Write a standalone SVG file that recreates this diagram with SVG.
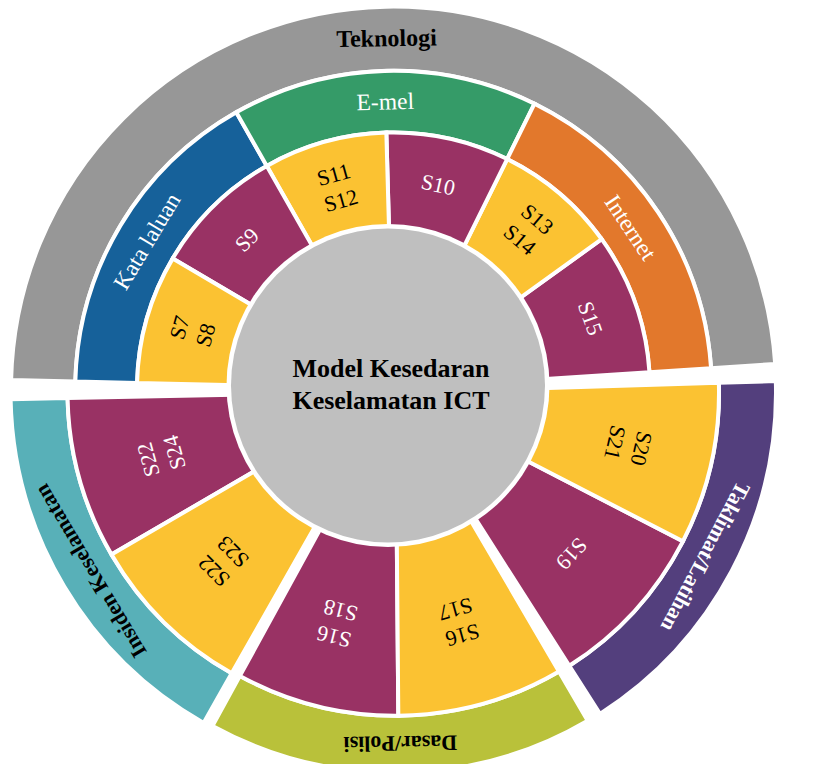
<svg xmlns="http://www.w3.org/2000/svg" width="836" height="764" viewBox="0 0 836 764">
<style>
.w{stroke:#ffffff;stroke-width:4;stroke-linejoin:miter}
.y{fill:#fbc232}.m{fill:#993264}.gr{fill:#979797}.bl{fill:#16619a}.gn{fill:#359b68}.or{fill:#e2782c}
.pu{fill:#533f7d}.ol{fill:#b9c13a}.te{fill:#58b0b8}
text{font-family:"Liberation Serif","Times New Roman",serif;text-anchor:middle}
.s{font-size:22px}.sk{fill:#000}.sw{fill:#ffffff}
.c{font-size:23.5px;fill:#ffffff}
.cb{font-size:22px;font-weight:bold}
.t{font-size:24px;font-weight:bold;fill:#000}
.ct{font-size:26px;font-weight:bold;fill:#000}
</style>
<rect width="836" height="764" fill="#ffffff"/>
<g id="connectors"/>
<g id="teknologi">
<path class="w gr" d="M 775.18 363.98 A 382.5 382.5 0 0 0 11.11 379.99 L 75.34 381.50 A 318.25 318.25 0 0 1 711.07 368.19 Z"/>
<text class="t" transform="translate(386.5 38.2) rotate(-1)" y="8">Teknologi</text>
</g>
<g id="kata-laluan">
<path class="w bl" d="M 236.30 112.28 A 318.25 318.25 0 0 0 75.34 381.50 L 137.07 382.96 A 256.5 256.5 0 0 1 266.80 165.97 Z"/>
<text class="c" transform="translate(146.93 241.35) rotate(-59.1)" y="7.8">Kata laluan</text>
</g>
<g id="e-mel">
<path class="w gn" d="M 534.51 103.69 A 318.25 318.25 0 0 0 236.30 112.28 L 266.80 165.97 A 256.5 256.5 0 0 1 507.15 159.05 Z"/>
<text class="c" transform="translate(385.23 101.72) rotate(-1.65)" y="7.8">E-mel</text>
</g>
<g id="internet">
<path class="w or" d="M 711.07 368.19 A 318.25 318.25 0 0 0 534.51 103.69 L 507.15 159.05 A 256.5 256.5 0 0 1 649.45 372.22 Z"/>
<text class="c" transform="translate(630.5 227.5) rotate(56.3)" y="7.8">Internet</text>
</g>
<g id="s15">
<path class="w m" d="M 649.45 372.22 A 256.5 256.5 0 0 0 601.67 239.14 L 511.18 304.28 A 145 145 0 0 1 538.19 379.52 Z"/>
<text class="s sw" transform="translate(590.21 318.38) rotate(70.25)" y="7.3">S15</text>
</g>
<g id="s13-s14">
<path class="w y" d="M 601.67 239.14 A 256.5 256.5 0 0 0 507.15 159.05 L 457.75 259.01 A 145 145 0 0 1 511.18 304.28 Z"/>
<text class="s sk" transform="translate(528.51 229.45) rotate(40.3)"><tspan x="0" y="-6.2">S13</tspan><tspan x="0" y="20.8">S14</tspan></text>
</g>
<g id="s10">
<path class="w m" d="M 507.15 159.05 A 256.5 256.5 0 0 0 386.34 132.60 L 389.45 244.06 A 145 145 0 0 1 457.75 259.01 Z"/>
<text class="s sw" transform="translate(438.2 184.84) rotate(12.35)" y="7.3">S10</text>
</g>
<g id="s11-s12">
<path class="w y" d="M 386.34 132.60 A 256.5 256.5 0 0 0 266.80 165.97 L 321.88 262.92 A 145 145 0 0 1 389.45 244.06 Z"/>
<text class="s sk" transform="translate(337.3 187.7) rotate(-15.6)"><tspan x="0" y="-6.2">S11</tspan><tspan x="0" y="20.8">S12</tspan></text>
</g>
<g id="s9">
<path class="w m" d="M 266.80 165.97 A 256.5 256.5 0 0 0 172.72 258.43 L 268.69 315.19 A 145 145 0 0 1 321.88 262.92 Z"/>
<text class="s sw" transform="translate(247.01 239.93) rotate(-44.5)" y="7.3">S9</text>
</g>
<g id="s7-s8">
<path class="w y" d="M 172.72 258.43 A 256.5 256.5 0 0 0 137.07 382.96 L 248.54 385.58 A 145 145 0 0 1 268.69 315.19 Z"/>
<text class="s sk" transform="translate(192.6 331.39) rotate(-74)"><tspan x="0" y="-6.2">S7</tspan><tspan x="0" y="20.8">S8</tspan></text>
</g>
<g id="taklimat-latihan">
<path class="w pu" d="M 599.99 713.84 A 381 381 0 0 0 775.82 381.06 L 718.85 382.81 A 324 324 0 0 1 569.32 665.80 Z"/>
<text class="cb sw" transform="translate(705.5 556.8) rotate(117.85)" y="7.3">Taklimat/Latihan</text>
</g>
<g id="s19">
<path class="w m" d="M 569.32 665.80 A 324 324 0 0 0 682.90 541.30 L 523.85 459.20 A 145 145 0 0 1 473.01 514.92 Z"/>
<text class="s sw" transform="translate(571.6 553.74) rotate(132.4)" y="7.3">S19</text>
</g>
<g id="s20-s21">
<path class="w y" d="M 682.90 541.30 A 324 324 0 0 0 718.85 382.81 L 539.93 388.27 A 145 145 0 0 1 523.85 459.20 Z"/>
<text class="s sk" transform="translate(628.08 445.55) rotate(102.8)"><tspan x="0" y="-6.2">S20</tspan><tspan x="0" y="20.8">S21</tspan></text>
</g>
<g id="dasar-polisi">
<path class="w ol" d="M 212.54 725.88 A 381 381 0 0 0 587.72 720.64 L 558.96 671.43 A 324 324 0 0 1 239.91 675.89 Z"/>
<text class="cb sk" transform="translate(400.4 743.5) rotate(179.2)" y="7.3">Dasar/Polisi</text>
</g>
<g id="s16-s18">
<path class="w m" d="M 239.91 675.89 A 324 324 0 0 0 398.33 715.69 L 396.77 536.69 A 145 145 0 0 1 325.87 518.88 Z"/>
<text class="s sw" transform="translate(337.28 623.5) rotate(194.1)"><tspan x="0" y="-6.2">S16</tspan><tspan x="0" y="20.8">S18</tspan></text>
</g>
<g id="s16-s17">
<path class="w y" d="M 398.33 715.69 A 324 324 0 0 0 558.96 671.43 L 468.65 516.89 A 145 145 0 0 1 396.77 536.69 Z"/>
<text class="s sk" transform="translate(458.97 622.12) rotate(164.6)"><tspan x="0" y="-6.2">S16</tspan><tspan x="0" y="20.8">S17</tspan></text>
</g>
<g id="insiden-keselamatan">
<path class="w te" d="M 10.58 399.15 A 381 381 0 0 0 203.61 722.93 L 231.72 673.35 A 324 324 0 0 1 67.57 398.00 Z"/>
<text class="cb sk" transform="translate(90.4 571) rotate(239.2)" y="7.3">Insiden Keselamatan</text>
</g>
<g id="s22-s24">
<path class="w m" d="M 67.57 398.00 A 324 324 0 0 0 111.48 554.48 L 266.18 464.44 A 145 145 0 0 1 246.53 394.41 Z"/>
<text class="s sw" transform="translate(161.39 456.08) rotate(254.3)"><tspan x="0" y="-6.2">S22</tspan><tspan x="0" y="20.8">S24</tspan></text>
</g>
<g id="s22-s23">
<path class="w y" d="M 111.48 554.48 A 324 324 0 0 0 231.72 673.35 L 319.99 517.64 A 145 145 0 0 1 266.18 464.44 Z"/>
<text class="s sk" transform="translate(223.39 561.38) rotate(224.7)"><tspan x="0" y="-6.2">S22</tspan><tspan x="0" y="20.8">S23</tspan></text>
</g>
<g id="centre">
<circle cx="388" cy="385.5" r="161.5" fill="#ffffff"/>
<circle cx="388" cy="385.5" r="157" fill="#bfbfbf"/>
<text class="ct" x="391" y="377">Model Kesedaran</text>
<text class="ct" x="391" y="409">Keselamatan ICT</text>
</g>
</svg>
